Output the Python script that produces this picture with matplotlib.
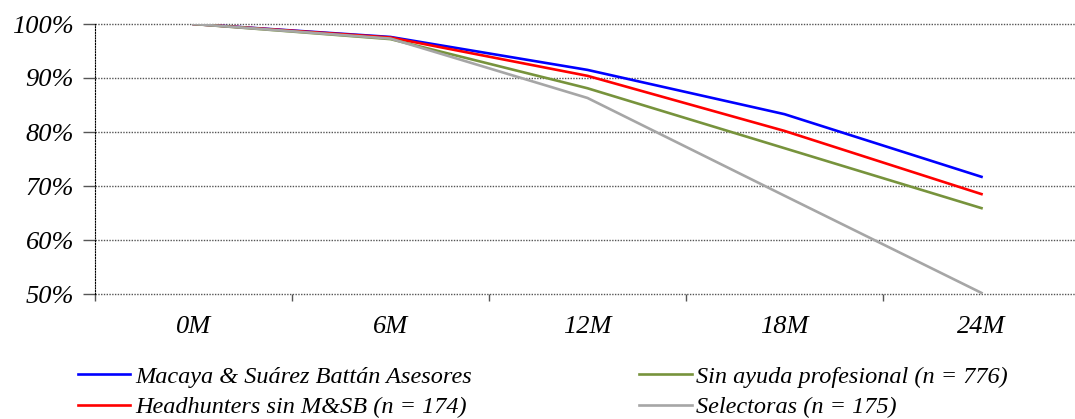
import numpy as np
import matplotlib
matplotlib.use("Agg")
import matplotlib.pyplot as plt
from matplotlib.ticker import FixedLocator, FuncFormatter

# ==============================================================================
# 数据
# ==============================================================================
months = ["0M", "6M", "12M", "18M", "24M"]
macaya = [100, 97.6, 91.5, 83.3, 71.7]
headhunters = [100, 97.5, 90.4, 80.2, 68.5]
sin_ayuda = [100, 97.2, 88.1, 77.0, 65.9]
selectoras = [100, 97.3, 86.3, 68.2, 50.2]

labels = ["Macaya & Suárez Battán Asesores",
          "Headhunters sin M&SB (n = 174)",
          "Sin ayuda profesional (n = 776)",
          "Selectoras (n = 175)"]
colors = ["#0000FF", "#FF0000", "#77933C", "#A6A6A6"]

plt.rcParams['font.family'] = ['Liberation Serif', 'DejaVu Serif']
plt.rcParams['font.style'] = 'italic'

fig = plt.figure(figsize=(10.75, 4.19), dpi=100)
ax = fig.add_axes([95 / 1075, 1 - 294 / 419, 985 / 1075, 270 / 419])

x = np.arange(len(months))
series = [macaya, headhunters, sin_ayuda, selectoras]
handles = []
for s, c, lab in zip(series, colors, labels):
    h, = ax.plot(x, s, color=c, linewidth=1.9, label=lab, zorder=3)
    handles.append(h)

ax.set_xlim(-0.5, 4.5)
ax.set_ylim(50, 100)
ax.set_yticks(np.arange(50, 101, 10))
ax.yaxis.set_major_formatter(FuncFormatter(lambda v, p: f"{v:.0f}%"))
ax.grid(axis='y', linestyle=(0, (1, 1)), color='#555555', linewidth=1.0)
for gl in ax.get_ygridlines():
    gl.set_clip_on(False)
ax.set_axisbelow(True)

ax.set_xticks(x)
ax.set_xticklabels(months)
ax.xaxis.set_minor_locator(FixedLocator(np.arange(-0.5, 4.6, 1)))
ax.tick_params(axis='x', which='major', length=0, pad=16, labelsize=19)
ax.tick_params(axis='x', which='minor', length=5, color='#555555', width=1)
ax.tick_params(axis='y', length=9, color='#555555', width=1, pad=6, labelsize=19)

for sp in ['top', 'right', 'bottom']:
    ax.spines[sp].set_visible(False)
ax.spines['left'].set_linestyle((0, (1, 1.5)))
ax.spines['left'].set_color('black')

leg = fig.legend(handles=handles,
                 loc='lower left', bbox_to_anchor=(68 / 1075, -0.022),
                 ncol=2, frameon=False, fontsize=17.5, handlelength=2.15,
                 handletextpad=0.2, columnspacing=6.9, labelspacing=0.36,
                 borderaxespad=0.0)

fig.savefig('out.png', dpi=100)
